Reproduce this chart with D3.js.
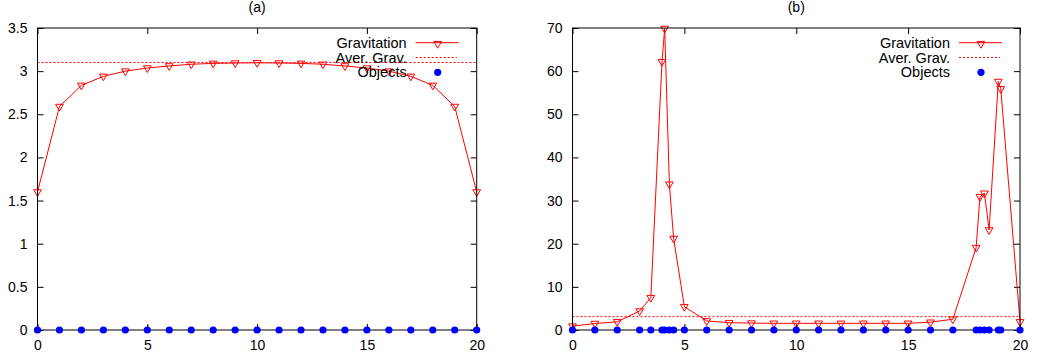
<!DOCTYPE html>
<html>
  <head>
    <meta charset="utf-8">
    <title>Gravitation (a) and (b)</title>
    <script src="https://cdn.jsdelivr.net/npm/d3@7"></script>
    <style>
      body { margin: 0; background: #fff; }
      svg { display: block; font-family: "Liberation Sans", Arial, sans-serif; }
      .tick text { font-size: 14px; fill: #000; }
      .title { font-size: 14px; fill: #000; }
      .legend text { font-size: 14.5px; fill: #000; }
    </style>
  </head>
  <body>
    <svg id="chart" width="1037" height="362"></svg>

    <script>
      // panel (a): evenly spaced objects
      xA = [0, 1, 2, 3, 4, 5, 6, 7, 8, 9, 10, 11, 12, 13, 14, 15, 16, 17, 18, 19, 20];
      gravA = [1.6, 2.59, 2.835, 2.94, 3.0, 3.036, 3.06, 3.08, 3.09, 3.094, 3.097,
        3.094, 3.09, 3.08, 3.06, 3.036, 3.0, 2.94, 2.835, 2.59, 1.6];
      avgA = 3.1;
      yTicksA = [0, 0.5, 1, 1.5, 2, 2.5, 3, 3.5];

      // panel (b): clustered objects
      xB = [0, 1, 2, 3, 3.5, 4.0, 4.12, 4.33, 4.52, 5, 6, 7, 8, 9, 10, 11, 12, 13,
        14, 15, 16, 17, 18.04, 18.21, 18.41, 18.62, 19.03, 19.14, 20];
      gravB = [0.9, 1.5, 1.9, 4.4, 7.5, 62.2, 69.9, 33.8, 21.2, 5.4, 2.1, 1.7, 1.6,
        1.55, 1.55, 1.55, 1.55, 1.55, 1.55, 1.55, 1.8, 2.5, 19.1, 30.9, 31.7, 23.2,
        57.6, 55.9, 1.9];
      avgB = 3.1;
      yTicksB = [0, 10, 20, 30, 40, 50, 60, 70];

      xTicks = [0, 5, 10, 15, 20];
      legendLabels = ["Gravitation", "Aver. Grav.", "Objects"];

      svg = d3.select("#chart");
      red = "#ff0000";
      blue = "#0000ff";
      triangle = d3.symbol().type(d3.symbolTriangle).size(26);

      function panel(opts) {
        x = d3.scaleLinear().domain([0, 20]).range([opts.left, opts.right]);
        y = d3.scaleLinear().domain(opts.yDomain).range([330, 28]);
        g = svg.append("g");

        g.append("text")
          .attr("class", "title")
          .attr("x", (opts.left + opts.right) / 2)
          .attr("y", 12)
          .attr("text-anchor", "middle")
          .text(opts.title);

        // inward ticks on all four sides, gnuplot style
        tickLen = 6;
        g.append("g")
          .attr("transform", "translate(0,330)")
          .call(d3.axisBottom(x).tickValues(xTicks).tickSize(-tickLen).tickPadding(10).tickFormat(d3.format("d")))
          .call(function(a) { a.select(".domain").remove(); });
        g.append("g")
          .attr("transform", "translate(0,28)")
          .call(d3.axisTop(x).tickValues(xTicks).tickSize(-tickLen).tickFormat(""))
          .call(function(a) { a.select(".domain").remove(); });
        g.append("g")
          .attr("transform", "translate(" + opts.left + ",0)")
          .call(d3.axisLeft(y).tickValues(opts.yTicks).tickSize(-tickLen).tickPadding(10).tickFormat(d3.format("")))
          .call(function(a) { a.select(".domain").remove(); });
        g.append("g")
          .attr("transform", "translate(" + opts.right + ",0)")
          .call(d3.axisRight(y).tickValues(opts.yTicks).tickSize(-tickLen).tickFormat(""))
          .call(function(a) { a.select(".domain").remove(); });
        g.selectAll(".tick line").attr("stroke", "#000");
        g.selectAll(".tick text").attr("fill", "#000");
        g.selectAll("g").attr("font-family", null).attr("font-size", null);

        // average line
        g.append("line")
          .attr("x1", opts.left).attr("x2", opts.right)
          .attr("y1", y(opts.avg)).attr("y2", y(opts.avg))
          .attr("stroke", red)
          .attr("stroke-dasharray", "2,2");

        // gravitation line
        pts = opts.xs.map(function(d, i) { return [d, opts.grav[i]]; });
        g.append("path")
          .datum(pts)
          .attr("fill", "none")
          .attr("stroke", red)
          .attr("stroke-width", 1)
          .attr("d", d3.line().x(function(d) { return x(d[0]); }).y(function(d) { return y(d[1]); }));
        g.selectAll(".tri")
          .data(pts)
          .enter().append("path")
          .attr("class", "tri")
          .attr("d", triangle)
          .attr("fill", "none")
          .attr("stroke", red)
          .attr("transform", function(d) {
            return "translate(" + x(d[0]) + "," + y(d[1]) + ") rotate(180)";
          });

        // border box
        g.append("rect")
          .attr("x", opts.left).attr("y", 28)
          .attr("width", opts.right - opts.left).attr("height", 302)
          .attr("fill", "none")
          .attr("stroke", "#000");

        // objects
        g.selectAll(".obj")
          .data(opts.xs)
          .enter().append("circle")
          .attr("class", "obj")
          .attr("cx", function(d) { return x(d); })
          .attr("cy", y(0))
          .attr("r", 3.6)
          .attr("fill", blue);

        // legend
        lg = g.append("g").attr("class", "legend");
        textEnd = opts.right - 70;
        rows = [42.7, 57.5, 72.3];
        lg.selectAll("text")
          .data(legendLabels)
          .enter().append("text")
          .attr("x", textEnd)
          .attr("y", function(d, i) { return rows[i] + 5; })
          .attr("text-anchor", "end")
          .text(function(d) { return d; });
        lg.append("line")
          .attr("x1", textEnd + 9).attr("x2", textEnd + 52)
          .attr("y1", rows[0]).attr("y2", rows[0])
          .attr("stroke", red);
        lg.append("path")
          .attr("d", triangle)
          .attr("fill", "none")
          .attr("stroke", red)
          .attr("transform", "translate(" + (textEnd + 31) + "," + (rows[0] + 1) + ") rotate(180)");
        lg.append("line")
          .attr("x1", textEnd + 9).attr("x2", textEnd + 50)
          .attr("y1", rows[1]).attr("y2", rows[1])
          .attr("stroke", red)
          .attr("stroke-dasharray", "2,2");
        lg.append("circle")
          .attr("cx", textEnd + 31).attr("cy", rows[2])
          .attr("r", 3.6)
          .attr("fill", blue);
      }

      panel({ title: "(a)", left: 37.5, right: 476.7, yDomain: [0, 3.5], yTicks: yTicksA,
        xs: xA, grav: gravA, avg: avgA });
      panel({ title: "(b)", left: 572.5, right: 1020, yDomain: [0, 70], yTicks: yTicksB,
        xs: xB, grav: gravB, avg: avgB });
    </script>
  </body>
</html>
